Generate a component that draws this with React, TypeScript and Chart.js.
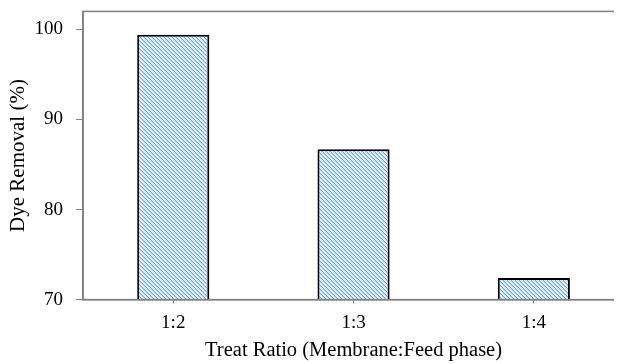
import React, { useEffect, useRef } from "react";
import { Chart, registerables } from "chart.js";

Chart.register(...registerables);

const categories = ["1:2", "1:3", "1:4"];
const dyeRemoval = [99.4, 86.7, 72.4];
const yTicks = [70, 80, 90, 100];
const yMin = 70;
const yMax = 102;
const xTitle = "Treat Ratio (Membrane:Feed phase)";
const yTitle = "Dye Removal (%)";

const FONT = "'Liberation Serif', 'Times New Roman', serif";
const GREY = "#808080";

function makePattern(): CanvasPattern | string {
  const size = 8;
  const c = document.createElement("canvas");
  c.width = size;
  c.height = size;
  const ctx = c.getContext("2d");
  if (!ctx) return "#b8d4f0";
  ctx.fillStyle = "#eaf3fc";
  ctx.fillRect(0, 0, size, size);
  for (let i = 0; i < size; i++) {
    ctx.fillStyle = "#66a6ea";
    ctx.fillRect(i, i, 1, 1);
    ctx.fillRect(i, (i + 4) % size, 1, 1);
    ctx.fillStyle = "#b7d5f4";
    ctx.fillRect(i, (i + 1) % size, 1, 1);
    ctx.fillRect(i, (i + 5) % size, 1, 1);
  }
  const p = ctx.createPattern(c, "repeat");
  return p || "#b8d4f0";
}

const framePlugin = {
  id: "frame",
  afterDraw(chart: any) {
    const { ctx, chartArea } = chart;
    ctx.save();
    ctx.strokeStyle = GREY;
    ctx.lineWidth = 1.5;
    ctx.strokeRect(chartArea.left, chartArea.top, chartArea.right - chartArea.left, chartArea.bottom - chartArea.top);
    ctx.restore();
  },
};

export default function App() {
  const ref = useRef<HTMLCanvasElement | null>(null);
  useEffect(() => {
    if (!ref.current) return;
    const chart = new Chart(ref.current, {
      type: "bar",
      data: {
        labels: categories,
        datasets: [
          {
            data: dyeRemoval,
            backgroundColor: makePattern() as any,
            borderColor: "#000000",
            borderWidth: 2,
            borderSkipped: false,
            categoryPercentage: 1,
            barPercentage: 0.4,
          },
        ],
      },
      options: {
        animation: false,
        responsive: false,
        maintainAspectRatio: false,
        layout: { padding: { top: 0, right: 2, left: 0, bottom: 0 } },
        plugins: { legend: { display: false }, tooltip: { enabled: false } },
        scales: {
          x: {
            offset: true,
            grid: { display: true, drawOnChartArea: false, drawTicks: true, tickLength: 4, color: GREY, offset: false },
            border: { display: true, color: GREY, width: 1.5 },
            ticks: { color: "#000", font: { family: FONT, size: 19 }, padding: 8 },
            title: { display: true, text: xTitle, color: "#000", font: { family: FONT, size: 20.5 }, padding: { top: -4, bottom: 0 } },
          },
          y: {
            min: yMin,
            max: yMax,
            afterBuildTicks(scale: any) {
              scale.ticks = yTicks.map((v) => ({ value: v }));
            },
            grid: { display: true, drawOnChartArea: false, drawTicks: true, tickLength: 7, color: GREY },
            border: { display: true, color: GREY, width: 1.5 },
            ticks: { color: "#000", font: { family: FONT, size: 19 }, padding: 13 },
            title: { display: true, text: yTitle, color: "#000", font: { family: FONT, size: 21 }, padding: { top: 0, bottom: -9.6 } },
          },
        },
      },
      plugins: [framePlugin],
    });
    return () => chart.destroy();
  }, []);
  return (
    <div style={{ width: 614, height: 356, overflow: "hidden", position: "relative" }}>
      <canvas
        ref={ref}
        width={620}
        height={376}
        style={{ display: "block", position: "absolute", left: -2, top: -21 }}
      />
    </div>
  );
}
